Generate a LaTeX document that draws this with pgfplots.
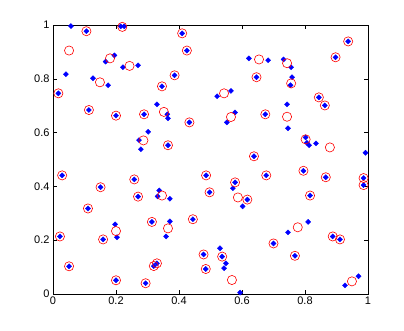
\documentclass[border=0pt]{standalone}
\usepackage{pgfplots}
\pgfplotsset{compat=1.18}
\usepackage{fontspec}
\setmainfont{Liberation Sans}
\begin{document}
\begin{tikzpicture}[x=1pt,y=1pt]
\begin{axis}[
  at={(0,0)}, anchor=south west,
  width=315pt, height=269pt, scale only axis,
  xmin=0, xmax=1, ymin=0, ymax=1,
  xtick={0,0.2,0.4,0.6,0.8,1}, ytick={0,0.2,0.4,0.6,0.8,1},
  xticklabels={0,0.2,0.4,0.6,0.8,1}, yticklabels={0,0.2,0.4,0.6,0.8,1},
  tick align=inside, xtick pos=both, ytick pos=both,
  major tick length=4pt,
  tick style={black, line width=0.5pt},
  axis line style={black, line width=0.5pt},
  tick label style={font=\fontsize{11}{13}\selectfont},
  xticklabel style={yshift=1pt},
  /pgf/number format/assume math mode=true,
  clip=false,
]
\addplot[only marks, mark=square*, mark size=1.8pt, mark options={rotate=45}, color={rgb,1:red,0;green,0;blue,1}] coordinates {
(0.057,0.996) (0.106,0.977) (0.041,0.817) (0.017,0.746) (0.127,0.802) (0.175,0.776)
(0.114,0.684) (0.167,0.864) (0.195,0.887) (0.215,0.995) (0.226,0.995) (0.222,0.843)
(0.270,0.850) (0.200,0.663) (0.289,0.668) (0.330,0.705) (0.363,0.668) (0.365,0.653)
(0.346,0.772) (0.386,0.813) (0.410,0.969) (0.425,0.905) (0.433,0.638) (0.302,0.603)
(0.273,0.572) (0.279,0.538) (0.365,0.553)
(0.937,0.939) (0.897,0.880) (0.622,0.876) (0.683,0.869) (0.732,0.872) (0.756,0.843)
(0.646,0.806) (0.759,0.806) (0.754,0.776) (0.521,0.735) (0.565,0.755) (0.844,0.731)
(0.863,0.701) (0.743,0.705) (0.578,0.675) (0.552,0.638) (0.674,0.668) (0.746,0.616)
(0.802,0.582) (0.806,0.562) (0.813,0.553) (0.835,0.560) (0.992,0.525) (0.638,0.512)
(0.029,0.441) (0.151,0.397) (0.258,0.426) (0.270,0.362) (0.337,0.385) (0.332,0.363)
(0.371,0.354) (0.486,0.441) (0.497,0.378) (0.111,0.318) (0.314,0.268) (0.371,0.270)
(0.359,0.214) (0.444,0.278) (0.197,0.259) (0.203,0.211) (0.022,0.214) (0.159,0.203)
(0.051,0.103) (0.320,0.104) (0.330,0.114) (0.478,0.147) (0.485,0.093) (0.200,0.051)
(0.294,0.040)
(0.578,0.415) (0.571,0.393) (0.617,0.351) (0.602,0.326) (0.677,0.441) (0.795,0.458)
(0.866,0.434) (0.986,0.431) (0.986,0.405) (0.816,0.366) (0.810,0.268) (0.746,0.229)
(0.888,0.214) (0.911,0.203) (0.700,0.188) (0.768,0.142) (0.530,0.170) (0.537,0.139)
(0.549,0.114) (0.543,0.096) (0.594,0.005) (0.970,0.066) (0.927,0.032)
};
\addplot[only marks, mark=o, mark size=4.6pt, mark options={line width=0.6pt}, color={rgb,1:red,1;green,0;blue,0}] coordinates {
(0.106,0.977) (0.051,0.905) (0.017,0.746) (0.149,0.787) (0.114,0.684) (0.181,0.876)
(0.220,0.993) (0.243,0.848) (0.200,0.663) (0.289,0.668) (0.352,0.677) (0.346,0.772)
(0.386,0.813) (0.410,0.969) (0.425,0.905) (0.433,0.638) (0.287,0.571) (0.365,0.553)
(0.937,0.939) (0.897,0.880) (0.654,0.872) (0.743,0.858) (0.646,0.806) (0.756,0.783)
(0.543,0.746) (0.844,0.731) (0.863,0.701) (0.565,0.658) (0.674,0.668) (0.743,0.659)
(0.802,0.575) (0.879,0.545) (0.638,0.512)
(0.029,0.441) (0.151,0.397) (0.258,0.426) (0.270,0.362) (0.346,0.366) (0.486,0.441)
(0.497,0.378) (0.111,0.318) (0.314,0.268) (0.365,0.244) (0.444,0.278) (0.200,0.234)
(0.022,0.214) (0.159,0.203) (0.051,0.103) (0.320,0.104) (0.330,0.114) (0.478,0.147)
(0.485,0.093) (0.200,0.051) (0.294,0.040)
(0.578,0.415) (0.587,0.359) (0.617,0.351) (0.677,0.441) (0.795,0.458) (0.866,0.434)
(0.986,0.431) (0.986,0.405) (0.816,0.366) (0.777,0.248) (0.888,0.214) (0.911,0.203)
(0.700,0.188) (0.768,0.142) (0.537,0.139) (0.568,0.052) (0.949,0.047)
};
\end{axis}
\path[use as bounding box] (-53,-36) rectangle (351,294);
\end{tikzpicture}
\end{document}
